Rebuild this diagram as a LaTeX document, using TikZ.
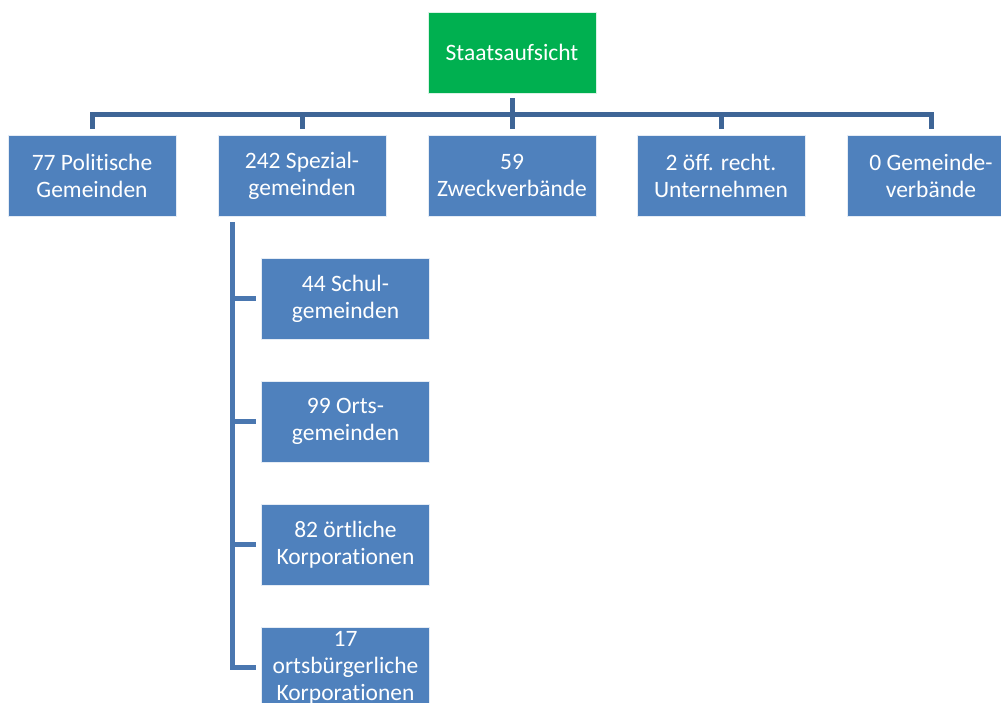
\documentclass[tikz,border=0pt]{standalone}
\usepackage{fontspec}
\setmainfont{Carlito}[Ligatures={NoCommon}]
\definecolor{boxblue}{HTML}{4F81BD}
\definecolor{boxgreen}{HTML}{00B050}
\definecolor{conntop}{HTML}{3E6596}
\definecolor{connsub}{HTML}{4A77B0}
\tikzset{
  box/.style={fill=boxblue, draw=white!85!boxblue, line width=0.8pt, minimum width=168pt, minimum height=81pt,
    inner sep=0pt, align=center, text=white, font=\fontsize{23.5}{27}\selectfont},
  topbox/.style={box, fill=boxgreen, draw=white!85!boxgreen},
  conn/.style={draw=conntop, line width=5pt, line join=miter},
  subconn/.style={draw=connsub, line width=5pt, line join=miter}
}
\begin{document}
\begin{tikzpicture}[x=1pt,y=-1pt]
\useasboundingbox (0,0) rectangle (1001,702);
\clip (0,0) rectangle (1001,702);
\node[topbox] (top) at (512,52.5) {Staatsaufsicht};
\node[box] (c1) at (92,175.5) {77 Politische\\Gemeinden};
\node[box] (c2) at (302,175.5) {242 Spezial-\\gemeinden};
\node[box] (c3) at (512,175.5) {59\\Zweckverbände};
\node[box] (c4) at (721,175.5) {2 öff. recht.\\Unternehmen};
\node[box] (c5) at (931,175.5) {0 Gemeinde-\\verbände};
\node[box] (s1) at (345.5,298.5) {44 Schul-\\gemeinden};
\node[box] (s2) at (345.5,421.5) {99 Orts-\\gemeinden};
\node[box] (s3) at (345.5,544.5) {82 örtliche\\Korporationen};
\node[box] (s4) at (345.5,667.5) {17\\ortsbürgerliche\\Korporationen};
\coordinate (bar) at (512,114);
\foreach \c in {c1,c2,c3,c4,c5}{
  \draw[conn] ([yshift=-5pt]top.south) |- (\c.north |- bar) -- ([yshift=6pt]\c.north);
}
\coordinate (spine) at ([xshift=15pt,yshift=-6pt]c2.south west);
\foreach \s in {s1,s2,s3,s4}{
  \draw[subconn] (spine) |- ([xshift=-5pt]\s.west);
}
\end{tikzpicture}
\end{document}
